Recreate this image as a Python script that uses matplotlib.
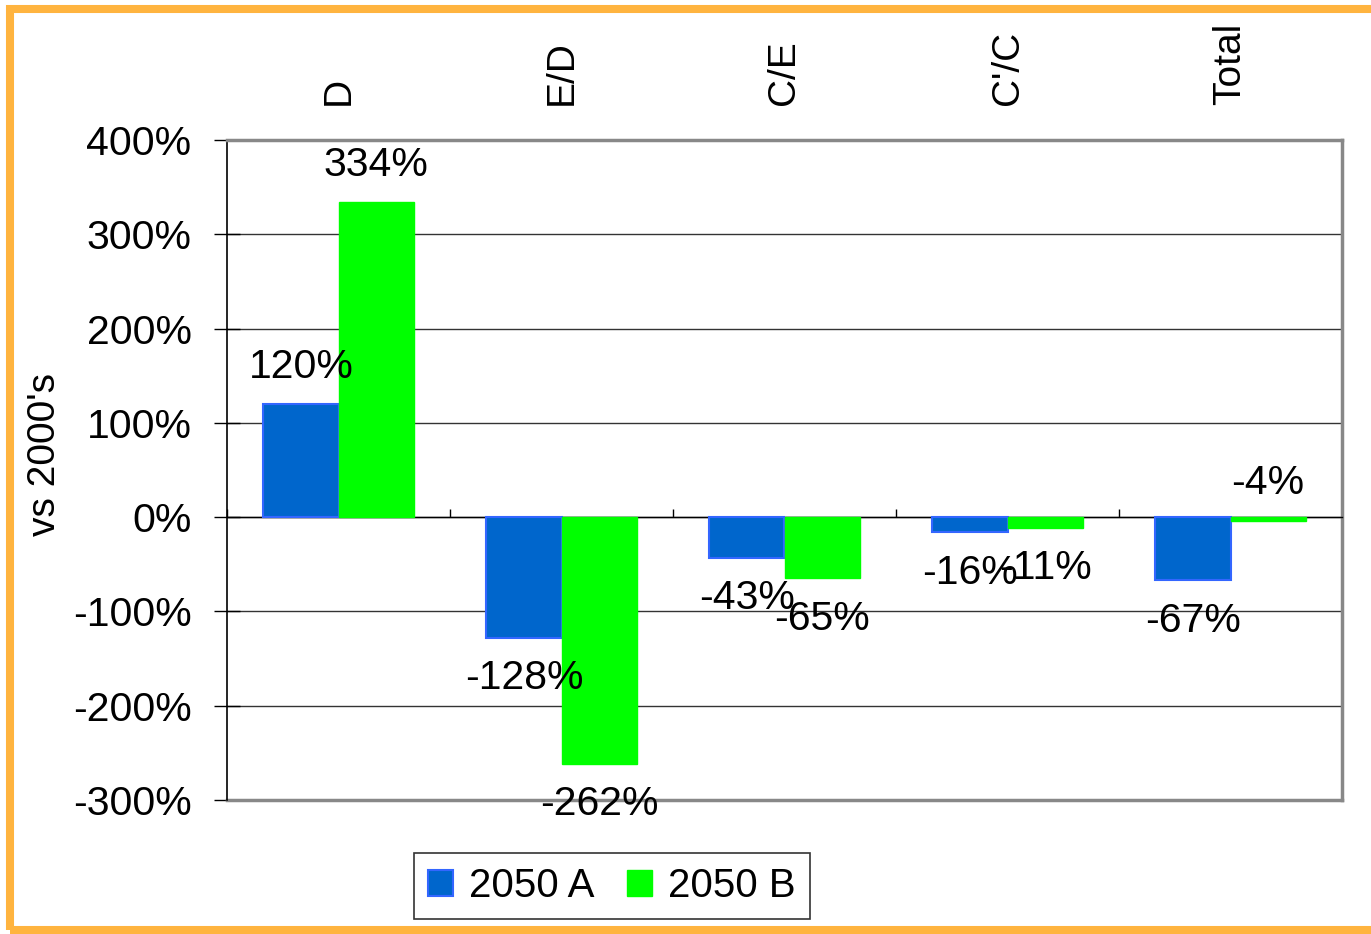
import matplotlib
matplotlib.use('Agg')
import matplotlib.pyplot as plt
from matplotlib.patches import Rectangle
import numpy as np

plt.rcParams['font.family'] = ['Liberation Sans', 'DejaVu Sans']

# data
categories = ['D', 'E/D', 'C/E', "C'/C", 'Total']
series_names = ['2050 A', '2050 B']
vals_a = [120, -128, -43, -16, -67]
vals_b = [334, -262, -65, -11, -4]
yticks = [-300, -200, -100, 0, 100, 200, 300, 400]

blue = '#0066CC'
green = '#00FF00'

fig = plt.figure(figsize=(13.71, 9.34), dpi=100)
ax = fig.add_axes([227 / 1371, 1 - 800 / 934, 1115 / 1371, 660 / 934])

x = np.arange(len(categories))
w = 0.337
bars_a = ax.bar(x - w / 2, vals_a, w, color=blue, edgecolor='#3366FF', linewidth=1.5,
                label=series_names[0], zorder=3)
bars_b = ax.bar(x + w / 2, vals_b, w, color=green, edgecolor=green, linewidth=1,
                label=series_names[1], zorder=3)

# value labels outside the bar ends
for bars, vals in [(bars_a, vals_a), (bars_b, vals_b)]:
    for b, v in zip(bars, vals):
        cx = b.get_x() + b.get_width() / 2
        off = 27 if v > -5 else -29
        ax.annotate(f'{v}%', (cx, v), xytext=(0, off), textcoords='offset points',
                    ha='center', va='center', fontsize=29.5, zorder=5)

ax.set_xlim(-0.5, len(categories) - 0.5)
ax.set_ylim(-300, 400)
ax.set_yticks(yticks)
ax.set_yticklabels([f'{t}%' for t in yticks])
ax.yaxis.grid(True, color='#333333', linewidth=1)
ax.set_axisbelow(True)
ax.tick_params(axis='y', direction='inout', length=19, width=1, labelsize=29.5, pad=16)

# category axis sits on the zero line, boundary ticks pointing up
ax.spines['bottom'].set_position(('data', 0))
ax.spines['bottom'].set_color('black')
ax.spines['bottom'].set_linewidth(1)
ax.set_xticks(np.arange(len(categories) + 1) - 0.5)
ax.set_xticklabels([])
ax.tick_params(axis='x', direction='in', length=6, width=1)
ax.spines['left'].set_linewidth(1.2)
ax.spines['left'].set_color('black')
for s in ['top', 'right']:
    ax.spines[s].set_color('#888888')
    ax.spines[s].set_linewidth(2.5)
# plot-area frame along the bottom
ax.axhline(-300, color='#888888', linewidth=2.5, clip_on=False, zorder=2)

top = ax.secondary_xaxis('top')
top.set_xticks(x)
top.set_xticklabels(categories, rotation=90, fontsize=28)
top.tick_params(length=0, pad=25)
top.spines['top'].set_visible(False)

fig.text(45 / 1371, 1 - 455 / 934, "vs 2000's", rotation=90, ha='center', va='center',
         fontsize=28)

leg = fig.legend(handles=[bars_a, bars_b], labels=series_names, loc='center',
                 bbox_to_anchor=(612 / 1371, 1 - 886 / 934), ncol=2, fontsize=29,
                 frameon=True, fancybox=False, edgecolor='#333333', framealpha=1,
                 handlelength=0.62, handleheight=0.62, handletextpad=0.4,
                 columnspacing=0.8, borderpad=0.35, borderaxespad=0)
leg.get_frame().set_linewidth(1.2)

# orange outer frame (right edge runs off the picture)
fig.add_artist(Rectangle((9.5 / 1371, 1 - 930 / 934), 1.05, 921 / 934,
                         transform=fig.transFigure, fill=False,
                         edgecolor='#FFB43F', linewidth=5.8, clip_on=False))

fig.savefig('out.png', dpi=100)
